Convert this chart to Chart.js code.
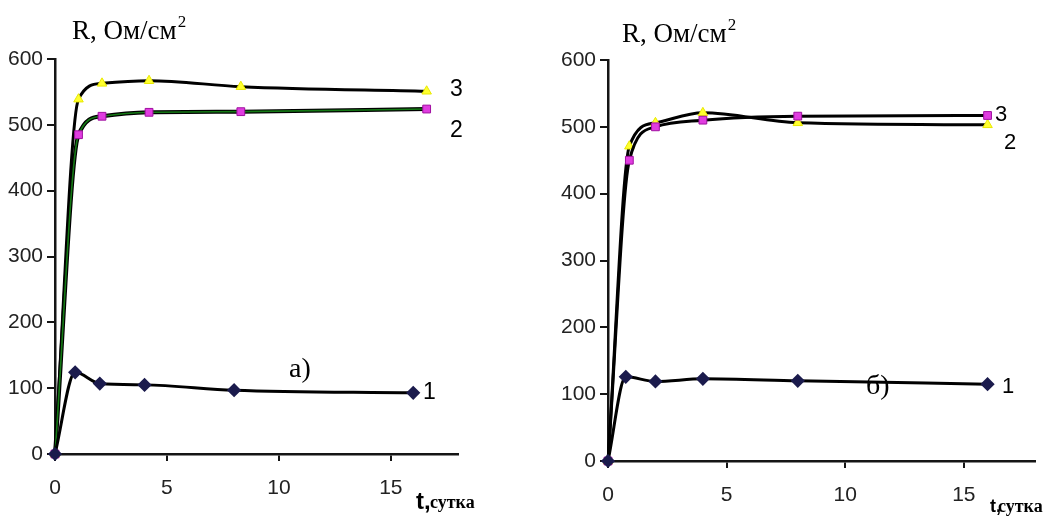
<!DOCTYPE html>
<html>
<head>
<meta charset="utf-8">
<script src="https://cdn.jsdelivr.net/npm/chart.js@4"></script>
<style>
  html, body { margin: 0; padding: 0; background: #fff; }
  #wrap { position: relative; width: 1064px; height: 516px; }
  #wrap canvas { position: absolute; left: 0; top: 0; }
</style>
</head>
<body>
<div id="wrap">
  <canvas id="chartA" width="1064" height="516"></canvas>
  <canvas id="chartB" width="1064" height="516"></canvas>
</div>
<script>
// Data (t in days, R in Ohm/cm2)
const xTicks = [0, 5, 10, 15];
const yTicks = [0, 100, 200, 300, 400, 500, 600];

// panel a)
const daysA1 = [0, 0.9, 2, 4, 8, 16];
const daysA23 = [0, 1.05, 2.1, 4.2, 8.3, 16.6];
const rA1 = [0, 124, 107, 105, 97, 93];
const rA2 = [0, 485, 513, 519, 520, 524];
const rA3 = [0, 539, 563, 567, 558, 551];

// panel б)
const daysB1 = [0, 0.75, 2, 4, 8, 16];
const daysB23 = [0, 0.9, 2, 4, 8, 16];
const rB1 = [0, 126, 119, 123, 120, 115];
const rB2 = [0, 471, 506, 521, 506, 503];
const rB3 = [0, 450, 500, 510, 516, 517];

const serif = "'Liberation Serif', 'Times New Roman', serif";
const sans = "'Liberation Sans', Arial, sans-serif";
const tickFont = { family: sans, size: 21 };
const INK = "#151515";

function pts(xs, ys) {
  return xs.map((x, i) => ({ x: x, y: ys[i] }));
}

const diamond = { pointStyle: "rectRot", pointRadius: 5, pointBackgroundColor: "#1b1b4d", pointBorderColor: "#1b1b4d" };
const square = { pointStyle: "rect", pointRadius: 5.5, pointBackgroundColor: "#e03ce0", pointBorderColor: "#a010a0", pointBorderWidth: 1 };
const triangle = { pointStyle: "triangle", pointRadius: 5.5, pointBackgroundColor: "#ffff30", pointBorderColor: "#e8e800", pointBorderWidth: 1 };

function lineSet(data, marker, extra) {
  return Object.assign({
    data: data,
    borderColor: "#000",
    borderWidth: 3,
    cubicInterpolationMode: "monotone",
    fill: false,
    clip: false
  }, marker, extra || {});
}

// free text drawn on top of each panel
const textPlugin = {
  id: "panelText",
  afterDraw(chart, args, opts) {
    const ctx = chart.ctx;
    ctx.save();
    ctx.textBaseline = "alphabetic";
    ctx.textAlign = "left";
    (opts.items || []).forEach(t => {
      ctx.font = t.font;
      ctx.fillStyle = "#000";
      ctx.fillText(t.text, t.x, t.y);
      if (t.sup) {
        const w = ctx.measureText(t.text).width;
        ctx.font = t.supFont;
        ctx.fillText(t.sup, t.x + w + 1, t.y - 12);
      }
    });
    ctx.restore();
  }
};

function makeChart(id, datasets, area, items) {
  return new Chart(document.getElementById(id), {
    type: "line",
    data: { datasets: datasets },
    plugins: [textPlugin],
    options: {
      responsive: false,
      animation: false,
      layout: { padding: { left: area.left - 55, right: 1064 - area.right, top: area.top, bottom: 0 } },
      plugins: { legend: { display: false }, tooltip: { enabled: false }, panelText: { items: items } },
      scales: {
        x: {
          type: "linear",
          min: 0,
          max: 18,
          afterBuildTicks: s => { s.ticks = xTicks.map(v => ({ value: v })); },
          afterFit: s => { s.height = 516 - area.bottom; },
          border: { display: true, color: INK, width: 2.5 },
          grid: { drawOnChartArea: false, drawTicks: true, tickLength: 7, color: INK, lineWidth: 2 },
          ticks: { font: tickFont, color: "#222", padding: 15, maxRotation: 0 }
        },
        y: {
          min: 0,
          max: 600,
          afterBuildTicks: s => { s.ticks = yTicks.map(v => ({ value: v })); },
          afterFit: s => { s.width = 55; },
          border: { display: true, color: INK, width: 2.5 },
          grid: { drawOnChartArea: false, drawTicks: true, tickLength: 8, color: INK, lineWidth: 2 },
          ticks: { font: tickFont, color: "#222", padding: 4 }
        }
      }
    }
  });
}

makeChart("chartA", [
  lineSet(pts(daysA1, rA1), diamond),
  lineSet(pts(daysA23, rA2), square, { borderColor: "#157a15", borderWidth: 1.6, order: 0 }),
  lineSet(pts(daysA23, rA2), { pointRadius: 0 }, { borderWidth: 4, order: 5 }),
  lineSet(pts(daysA23, rA3), triangle)
], { left: 55, right: 458, top: 59, bottom: 454 }, [
  { text: "R, Ом/см", sup: "2", x: 72, y: 39, font: "27px " + serif, supFont: "17px " + serif },
  { text: "3", x: 450, y: 96, font: "23px " + sans },
  { text: "2", x: 450, y: 137, font: "23px " + sans },
  { text: "1", x: 423, y: 399, font: "23px " + sans },
  { text: "а)", x: 289, y: 377, font: "28px " + serif },
  { text: "t,", x: 416, y: 509, font: "bold 24px " + sans },
  { text: "сутка", x: 430, y: 508, font: "bold 18px " + serif }
]);

makeChart("chartB", [
  lineSet(pts(daysB1, rB1), diamond),
  lineSet(pts(daysB23, rB3), square),
  lineSet(pts(daysB23, rB2), triangle)
], { left: 608, right: 1035, top: 60, bottom: 461 }, [
  { text: "R, Ом/см", sup: "2", x: 622, y: 42, font: "27px " + serif, supFont: "17px " + serif },
  { text: "3", x: 995, y: 121, font: "22px " + sans },
  { text: "2", x: 1004, y: 149, font: "22px " + sans },
  { text: "1", x: 1002, y: 393, font: "22px " + sans },
  { text: "б)", x: 866, y: 394, font: "28px " + serif },
  { text: "t,", x: 990, y: 512, font: "bold 18px " + sans },
  { text: "сутка", x: 998, y: 512, font: "bold 18px " + serif }
]);
</script>
</body>
</html>
